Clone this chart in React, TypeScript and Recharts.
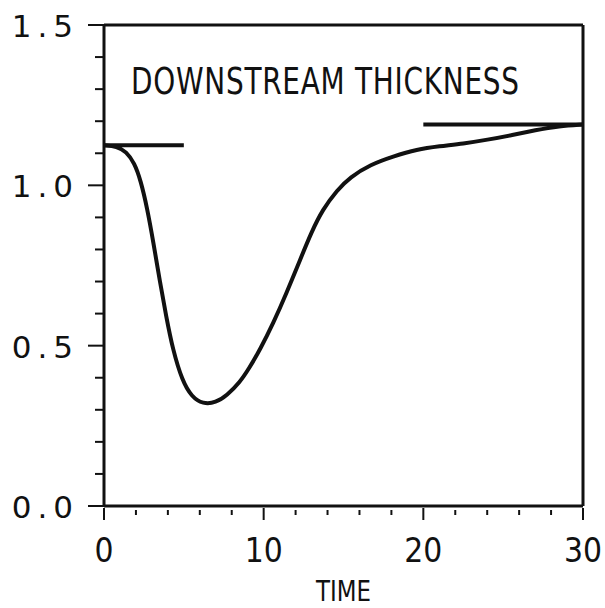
import React from 'react';
import { LineChart, Line, XAxis, YAxis, ReferenceLine } from 'recharts';

const times = [0, 0.8, 1.4, 1.9, 2.3, 2.7, 3.1, 3.5, 3.9, 4.3, 4.9, 5.5, 6.2, 7.0, 7.7, 8.5, 9.1, 9.8, 10.6, 11.4, 12.3, 13.0, 13.7, 14.6, 15.4, 16.7, 18.1, 19.6, 21.0, 22.5, 24.0, 25.6, 27.0, 28.5, 30];
const thickness = [1.125, 1.122, 1.105, 1.07, 1.015, 0.93, 0.82, 0.70, 0.59, 0.49, 0.39, 0.34, 0.318, 0.322, 0.345, 0.385, 0.43, 0.49, 0.57, 0.66, 0.77, 0.855, 0.925, 0.985, 1.025, 1.065, 1.09, 1.112, 1.122, 1.13, 1.142, 1.157, 1.172, 1.185, 1.19];

const initialTimes = [0, 5];
const initialLevel = 1.125;
const finalTimes = [20, 30];
const finalLevel = 1.19;

const xTicks = [0, 2, 4, 6, 8, 10, 12, 14, 16, 18, 20, 22, 24, 26, 28, 30];
const xLabelTicks = [0, 10, 20, 30];
const yTicks = [0, 0.1, 0.2, 0.3, 0.4, 0.5, 0.6, 0.7, 0.8, 0.9, 1.0, 1.1, 1.2, 1.3, 1.4, 1.5];
const yLabelTicks = [0, 0.5, 1.0, 1.5];

const title = 'DOWNSTREAM THICKNESS';
const xTitle = 'TIME';

const curveData = times.map((t, i) => ({ t, v: thickness[i] }));
const initialData = initialTimes.map((t) => ({ t, v: initialLevel }));
const finalData = finalTimes.map((t) => ({ t, v: finalLevel }));

const INK = '#111';
const SANS = '"DejaVu Sans", sans-serif';

const XTick = (props: any) => {
  const { x, y, payload } = props;
  const val = payload.value;
  const major = xLabelTicks.some((m) => Math.abs(m - val) < 1e-6);
  return (
    <g>
      <line x1={x} x2={x} y1={y + (major ? 2 : 4)} y2={y + (major ? 14 : 9)} stroke={INK} strokeWidth={2} />
      {major && (
        <text transform={`translate(${x},${y + 56}) scale(0.88,1)`} textAnchor="middle" fontFamily={SANS} fontSize={34} fill={INK}>
          {String(val)}
        </text>
      )}
    </g>
  );
};

const YTick = (props: any) => {
  const { x, y, payload } = props;
  const val = payload.value;
  const major = yLabelTicks.some((m) => Math.abs(m - val) < 1e-6);
  return (
    <g>
      <line x1={x - (major ? 16 : 9)} x2={x} y1={y} y2={y} stroke={INK} strokeWidth={2} />
      {major && (
        <text x={x - 25} y={y + 12} textAnchor="end" fontFamily={SANS} fontSize={31} letterSpacing={6} fill={INK}>
          {val.toFixed(1)}
        </text>
      )}
    </g>
  );
};

const TimeLabel = (props: any) => {
  const vb = props.viewBox || {};
  const cx = (vb.x ?? 104) + (vb.width ?? 479) / 2;
  const by = (vb.y ?? 506) + (vb.height ?? 102) - 7;
  return (
    <text transform={`translate(${cx},${by}) scale(0.79,1)`} textAnchor="middle" fontFamily={SANS} fontSize={29} fill={INK}>
      {xTitle}
    </text>
  );
};

export default function App() {
  return (
    <div style={{ position: 'absolute', left: 0, top: 0, width: 605, height: 608, background: '#fff' }}>
      <LineChart width={605} height={608} margin={{ top: 25, right: 22, bottom: 0, left: 0 }}>
        <XAxis
          dataKey="t"
          type="number"
          domain={[0, 30]}
          ticks={xTicks}
          interval={0}
          tickSize={0}
          tickMargin={0}
          tickLine={false}
          tick={<XTick />}
          height={102}
          axisLine={{ stroke: INK, strokeWidth: 3 }}
          allowDataOverflow
          label={<TimeLabel />}
        />
        <YAxis
          dataKey="v"
          type="number"
          domain={[0, 1.5]}
          ticks={yTicks}
          interval={0}
          tickSize={0}
          tickMargin={0}
          tickLine={false}
          tick={<YTick />}
          width={104}
          axisLine={{ stroke: INK, strokeWidth: 3 }}
          allowDataOverflow
        />
        <ReferenceLine y={1.5} stroke={INK} strokeWidth={3} />
        <ReferenceLine x={30} stroke={INK} strokeWidth={3} />
        <Line data={initialData} dataKey="v" type="linear" stroke={INK} strokeWidth={4} dot={false} isAnimationActive={false} />
        <Line data={finalData} dataKey="v" type="linear" stroke={INK} strokeWidth={4} dot={false} isAnimationActive={false} />
        <Line data={curveData} dataKey="v" type="basis" stroke={INK} strokeWidth={4} dot={false} isAnimationActive={false} />
      </LineChart>
      <div
        style={{
          position: 'absolute',
          left: 131,
          top: 58,
          fontFamily: SANS,
          fontSize: 38,
          lineHeight: '46px',
          color: INK,
          whiteSpace: 'nowrap',
          letterSpacing: 1,
          transform: 'scaleX(0.735)',
          transformOrigin: 'left top',
        }}
      >
        {title}
      </div>
    </div>
  );
}
